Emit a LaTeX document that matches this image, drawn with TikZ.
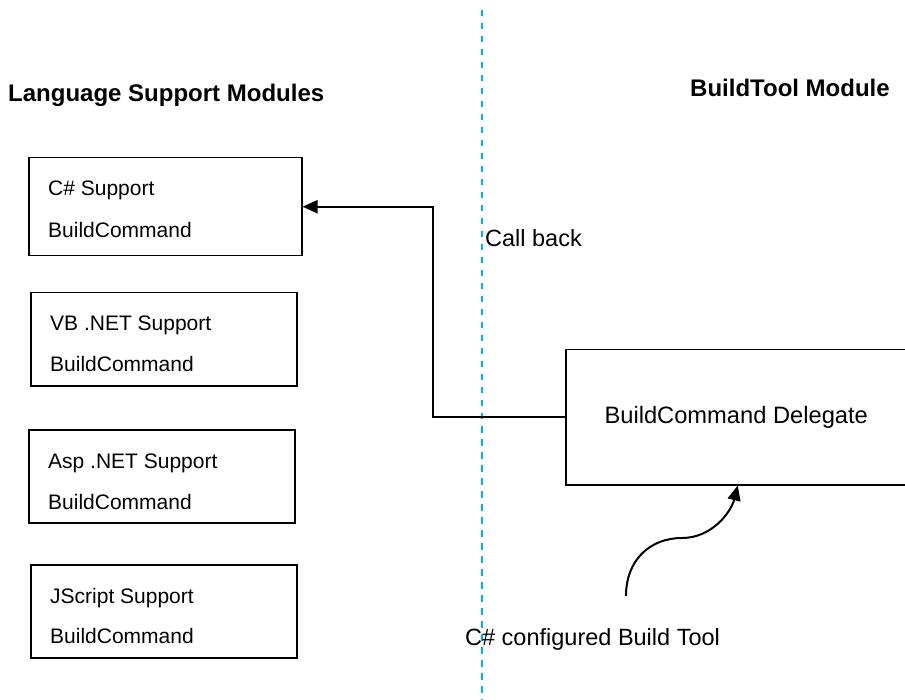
\documentclass[tikz,border=0pt]{standalone}
\usepackage{fontspec}
\setmainfont{Liberation Sans}
\usetikzlibrary{arrows.meta}
\definecolor{sepblue}{RGB}{0,176,240}
\begin{document}
\begin{tikzpicture}[x=1pt,y=-1pt,
  modbox/.style={draw, line width=1.5pt, inner sep=0pt, anchor=north west},
  txt/.style={inner sep=0pt, anchor=base west, font=\fontsize{21}{25}\selectfont},
  big/.style={inner sep=0pt, anchor=base west, font=\fontsize{23.5}{28}\selectfont},
  ttl/.style={inner sep=0pt, anchor=base west, font=\fontsize{24}{28}\selectfont\bfseries},
  conn/.style={line width=2pt, -{Triangle[length=15pt,width=13pt]}},
  sep/.style={sepblue, line width=2pt, dash pattern=on 6.5pt off 6.5pt},
]
\clip (0,0) rectangle (905,700);
\fill[white] (0,0) rectangle (905,700);

% separator
\coordinate (dtop) at (482,10);
\coordinate (dbot) at (482,700);
\draw[sep] (dtop) -- (dbot);

% titles
\node[ttl] (lsm) at (8,102) {Language Support Modules};
\node[ttl] (btm) at (690,97) {BuildTool Module};

% language support boxes
\node[modbox, minimum width=273pt, minimum height=98pt] (cs) at (28,157) {};
\node[txt] (cs1) at (48,196) {C\# Support};
\node[txt] (cs2) at (48,238) {BuildCommand};

\node[modbox, minimum width=266pt, minimum height=93.5pt] (vb) at (30,292) {};
\node[txt] (vb1) at (50,331) {VB .NET Support};
\node[txt] (vb2) at (50,372) {BuildCommand};

\node[modbox, minimum width=266pt, minimum height=93pt] (asp) at (28,429) {};
\node[txt] (asp1) at (48,468) {Asp .NET Support};
\node[txt] (asp2) at (48,509) {BuildCommand};

\node[modbox, minimum width=266pt, minimum height=93pt] (js) at (30,564) {};
\node[txt] (js1) at (50,603) {JScript Support};
\node[txt] (js2) at (50,643) {BuildCommand};

% delegate box
\node[modbox, minimum width=341pt, minimum height=135pt,
      font=\fontsize{23.7}{28}\selectfont] (del) at (565,349) {BuildCommand Delegate};

% call back connector
\coordinate (bend) at (433,0);
\draw[conn] (del.west) -| (bend |- cs.east) -- (cs.east);
\node[big] (cb) at (485,247) {Call back};

% configured build tool
\coordinate (src) at (626,596);
\draw[conn] (src) .. controls (626,560) and (650,538) .. (682,538)
  .. controls (712,538) and (731,512) .. ([xshift=1.5pt]del.south);
\node[big] (cfg) at (465,645) {C\# configured Build Tool};
\end{tikzpicture}
\end{document}
